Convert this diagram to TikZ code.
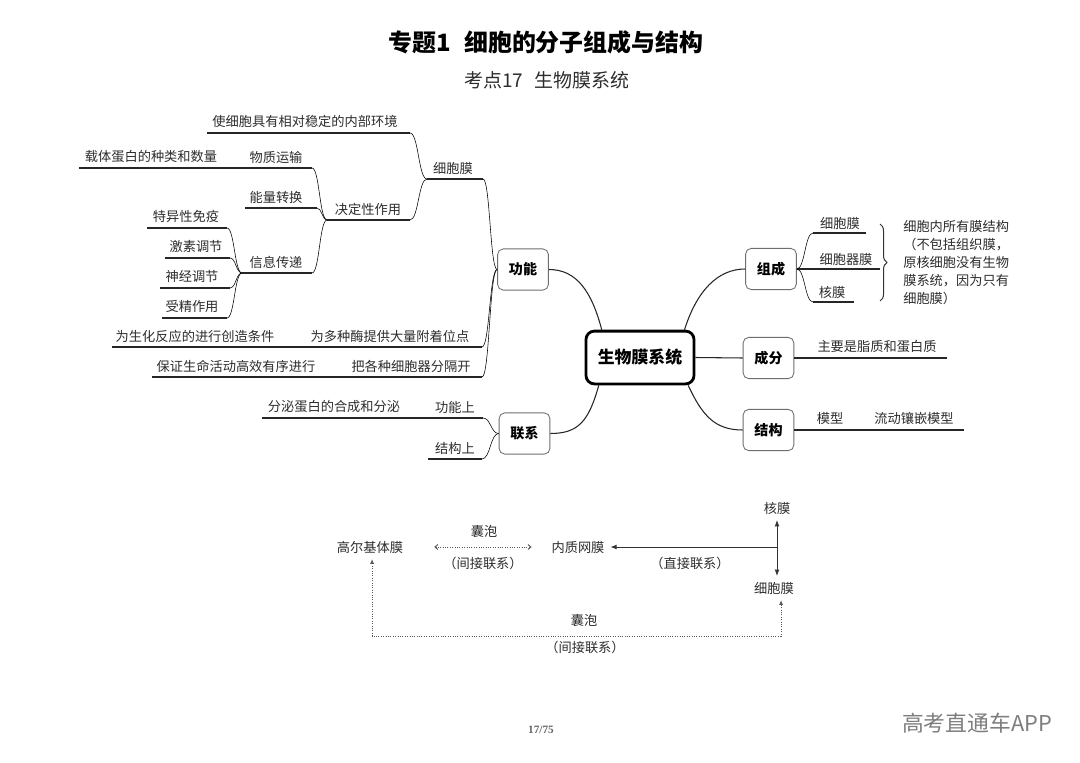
\documentclass[tikz,border=0pt]{standalone}
\usepackage{fontspec}
\setmainfont{Noto Sans CJK SC}
\newfontfamily\numfont{Liberation Serif}
\usepackage{xcolor}
\usetikzlibrary{arrows.meta, calc, decorations.pathreplacing}
\definecolor{txtgray} {RGB}{ 45, 45, 45}
\definecolor{boxgray} {RGB}{110,110,110}
\definecolor{markgray}{RGB}{125,125,125}

\begin{document}
\begin{tikzpicture}[x=0.025cm, y=-0.025cm,
  txt/.style={font=\fontsize{9.4}{11}\selectfont, text=txtgray, inner sep=0pt},
  lbl/.style={font=\fontsize{9.4}{11}\selectfont, text=txtgray, inner sep=4pt},
  sub/.style={rectangle, draw=boxgray, line width=0.6pt,
    rounded corners=4pt, minimum width=1.27cm,
    minimum height=1.03cm, font=\fontsize{10}{12}\selectfont\bfseries},
  hub/.style={rectangle, draw=black, line width=2pt,
    rounded corners=6pt, minimum width=2.7cm,
    minimum height=1.32cm, font=\fontsize{12}{14}\selectfont\bfseries},
  ln/.style={draw=black!85, line width=0.75pt},
  sline/.style={ln, to path={
    .. controls ($(\tikztostart)!0.5!(\tikztostart-|\tikztotarget)$)
    and ($(\tikztotarget)!0.5!(\tikztotarget-|\tikztostart)$)
    .. (\tikztotarget)}},
  arr/.style={-{Latex[length=4.5pt,width=3.5pt]}, line width=0.7pt, draw=black!80},
  dot/.style={densely dotted, line width=0.7pt, draw=black!65}
]
  \path[use as bounding box, fill=white] (0,0) rectangle (1080,763);

  % Titles
  \node[font=\fontsize{17}{20}\selectfont\bfseries] (ttl) at (546,42)
    {专题1\hspace{0.55em}细胞的分子组成与结构};
  \node[font=\fontsize{13.5}{16}\selectfont, text=txtgray] (sttl) at (547,80)
    {考点17\hspace{0.6em}生物膜系统};

  % Boxes
  \node[hub] (sw) at (640,357.5) {生物膜系统};
  \node[sub] (gn) at (523,269.5) {功能};
  \node[sub] (lx) at (524.5,433.5) {联系};
  \node[sub] (zc) at (771,269) {组成};
  \node[sub] (cf) at (768.5,358) {成分};
  \node[sub] (jg) at (768.5,430) {结构};

  \draw[ln] (sw.144) .. controls +(-10,-38) and +(28,0) .. (gn.east);
  \draw[ln] (sw.214) .. controls +(-10,36) and +(28,0) .. (lx.east);
  \draw[ln] (sw.32)  .. controls +(12,-38) and +(-28,0) .. (zc.west);
  \draw[ln] (sw.east) -- (cf.west);
  \draw[ln] (sw.-30) .. controls +(14,30) and +(-28,0) .. (jg.west);

  % Left: gongneng
  \coordinate (xbmL) at (427,179);  \coordinate (xbmR) at (483,179);
  \coordinate (hjL)  at (207,133);  \coordinate (hjR)  at (410,133);
  \coordinate (jdL)  at (327,220);  \coordinate (jdR)  at (410,220);
  \coordinate (wzL)  at (79,168);   \coordinate (wzR)  at (312,168);
  \coordinate (nlL)  at (245,208);  \coordinate (nlR)  at (317,208);
  \coordinate (xxL)  at (242,273);  \coordinate (xxR)  at (312,273);
  \coordinate (tyL)  at (147,228);  \coordinate (tyR)  at (227,228);
  \coordinate (jsL)  at (165,258);  \coordinate (jsR)  at (230,258);
  \coordinate (sjL)  at (160,288);  \coordinate (sjR)  at (230,288);
  \coordinate (szL)  at (162,318);  \coordinate (szR)  at (227,318);
  \coordinate (mjL)  at (112,347);  \coordinate (mjR)  at (482,347);
  \coordinate (fgL)  at (152,377);  \coordinate (fgR)  at (482,377);

  \node[txt] (tXbm) at (453,168) {细胞膜};
  \node[txt] (tHj)  at (305,121) {使细胞具有相对稳定的内部环境};
  \node[txt] (tJd)  at (368,209) {决定性作用};
  \node[txt] (tZt)  at (151,157) {载体蛋白的种类和数量};
  \node[txt] (tWz)  at (276,157) {物质运输};
  \node[txt] (tNl)  at (276,197) {能量转换};
  \node[txt] (tXx)  at (276,262) {信息传递};
  \node[txt] (tTy)  at (186,216) {特异性免疫};
  \node[txt] (tJs)  at (196,246) {激素调节};
  \node[txt] (tSj)  at (192,276) {神经调节};
  \node[txt] (tSz)  at (192,306) {受精作用};
  \node[txt] (tSh)  at (195,336) {为生化反应的进行创造条件};
  \node[txt] (tMj)  at (390,336) {为多种酶提供大量附着位点};
  \node[txt] (tBz)  at (236,366) {保证生命活动高效有序进行};
  \node[txt] (tFg)  at (411,366) {把各种细胞器分隔开};

  \foreach \n in {xbm,hj,jd,wz,nl,xx,ty,js,sj,sz,mj,fg}
    \draw[ln] (\n L) -- (\n R);
  \draw (gn.west) to[sline] (xbmR);
  \draw (gn.west) to[sline] (mjR);
  \draw (gn.west) to[sline] (fgR);
  \draw (xbmL) to[sline] (hjR);
  \draw (xbmL) to[sline] (jdR);
  \foreach \n in {wz,nl,xx}
    \draw (jdL) to[sline] (\n R);
  \foreach \n in {ty,js,sj,sz}
    \draw (xxL) to[sline] (\n R);

  % Left: lianxi
  \coordinate (gnsL) at (262,418); \coordinate (gnsR) at (483,418);
  \coordinate (jgsL) at (428,459); \coordinate (jgsR) at (482,459);
  \node[txt] (tFm)  at (334,407) {分泌蛋白的合成和分泌};
  \node[txt] (tGns) at (455,407) {功能上};
  \node[txt] (tJgs) at (455,448) {结构上};
  \draw[ln] (gnsL) -- (gnsR);
  \draw[ln] (jgsL) -- (jgsR);
  \draw (lx.west) to[sline] (gnsR);
  \draw (lx.west) to[sline] (jgsR);

  % Right
  \coordinate (rxbL) at (813,233); \coordinate (rxbR) at (866,233);
  \coordinate (rxqR) at (880,269);
  \coordinate (rhmL) at (813,302); \coordinate (rhmR) at (854,302);
  \coordinate (cfR)  at (947,358);
  \coordinate (jgR)  at (964,430);
  \node[txt] (tRxb) at (840,223) {细胞膜};
  \node[txt] (tRxq) at (846,259) {细胞器膜};
  \node[txt] (tRhm) at (832,292) {核膜};
  \node[txt] (tCf)  at (877,347) {主要是脂质和蛋白质};
  \node[txt] (tMx)  at (830,418) {模型};
  \node[txt] (tLd)  at (914,418) {流动镶嵌模型};
  \draw[ln] (rxbL) -- (rxbR);
  \draw[ln] (zc.east) -- (rxqR);
  \draw[ln] (rhmL) -- (rhmR);
  \draw (zc.east) to[sline] (rxbL);
  \draw (zc.east) to[sline] (rhmL);
  \draw[ln] (cf.east) -- (cfR);
  \draw[ln] (jg.east) -- (jgR);

  \coordinate (brT) at (880,224); \coordinate (brB) at (880,301);
  \draw[line width=0.7pt, draw=black!80, decorate,
    decoration={brace, amplitude=5pt}] (brT) -- (brB);
  \node[txt, anchor=north west, align=left,
    font=\fontsize{9.4}{12.8}\selectfont] (tNote) at (903,220)
    {细胞内所有膜结构\\（不包括组织膜，\\原核细胞没有生物\\膜系统，因为只有\\细胞膜）};

  % Bottom relations
  \node[lbl] (gej) at (370,547) {高尔基体膜};
  \node[lbl] (nzw) at (578,547) {内质网膜};
  \node[lbl] (hmb) at (777,508) {核膜};
  \node[lbl] (xbm) at (774,588) {细胞膜};
  \coordinate (jc) at (777,547);
  \coordinate (lp) at (580,636);
  \draw[arr] (jc) -- (hmb.south -| jc);
  \draw[arr] (jc) -- (xbm.north -| jc);
  \draw[arr] (jc) -- (nzw.east);
  \node[txt] (tZj) at (690,563) {（直接联系）};

  \draw[dot, {Straight Barb[length=2pt,width=3.5pt]}-{Straight Barb[length=2pt,width=3.5pt]},
    shorten <=18pt, shorten >=10pt] (gej.east) -- (nzw.west);
  \node[txt] (tNp1) at (484,531) {囊泡};
  \node[txt] (tJj1) at (483,563) {（间接联系）};

  \draw[dot, {Latex[length=3.5pt,width=3pt]}-{Latex[length=3.5pt,width=3pt]}]
    ([xshift=1.5pt]gej.south) |- (lp) -| ([xshift=5pt]xbm.south);
  \node[txt] (tNp2) at (584,620) {囊泡};
  \node[txt] (tJj2) at (585,647) {（间接联系）};

  % Footer
  \node[font=\numfont\fontsize{8}{10}\selectfont\bfseries, text=black!60] (pg)
    at (541,730) {17/75};
  \node[font=\fontsize{15.5}{18}\selectfont, text=markgray] (wm)
    at (977,723) {高考直通车APP};
\end{tikzpicture}
\end{document}
